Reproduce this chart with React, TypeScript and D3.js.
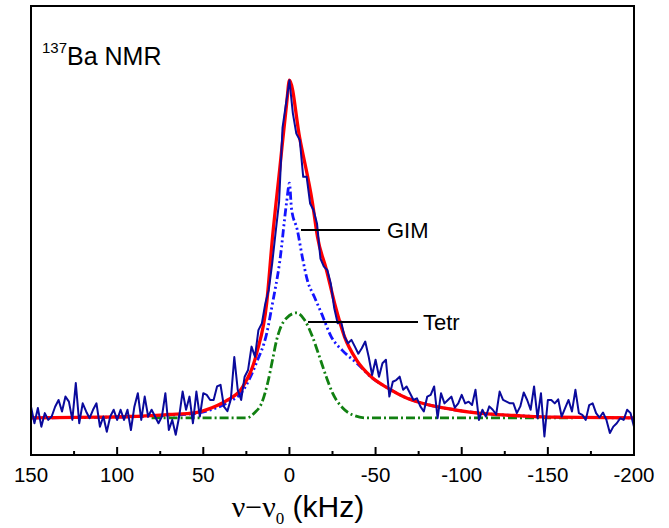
import React from "react";
import * as d3 from "d3";

// measured spectrum, 2 kHz channels from 150 down to -200 kHz
const freqStart = 150;
const freqStep = -2;
const spectrum = [
  3.3, -1.6, 2.9, -2.6, 1.4, -0.6, 0.4, 3.3, 5.3, 1.9,
  6.3, 4.8, -0.6, 10.3, -1.6, 4.3, 1.9, -0.1, 2.4, 4.3,
  -2.6, 0.4, -4.1, 0.4, 2.4, -0.6, 2.4, -0.6, 2.4, -3.6,
  3.3, 7.3, -0.6, 6.3, 0.4, 2.4, 0.4, -1.6, 0.4, 7.3,
  -3.6, -0.6, -5.0, 0.4, 7.8, 2.4, 6.3, -1.6, 7.8, 0.4,
  7.3, 6.8, 5.3, 5.3, 9.3, 9.8, 3.3, 2.0, 5.5, 18,
  8.3, 5.3, 12.2, 14.2, 21.1, 18.1, 26.0, 28.0, 33.9, 37.9,
  45.8, 55, 64, 86, 93, 100, 90.2, 84.2, 82.3, 71.4,
  71.4, 63.5, 61.5, 57.6, 47.2, 44.8, 43.8, 39.8, 32.5, 28.0,
  28.5, 24.0, 22.1, 23.1, 21.1, 19, 20.6, 22.6, 18.1, 12.7,
  17.2, 12.2, 16.2, 17.2, 6.3, 10.7, 11.2, 12.2, 8.3, 9.3,
  7.3, 5.3, 5.8, 3.4, 1.9, 6.3, 6.8, 9.3, -0.1, 7.3,
  4.3, 5.3, 6.3, 3.0, 4.3, 6.8, 4.3, 4.8, 3.8, 8.3,
  -0.6, 2.4, 0.4, 3.4, 2.4, 1.0, 7.8, 5.3, 4.8, 4.3,
  4.3, 1.4, 3.4, 7.5, 5.3, 2.4, 9.3, -0.1, 7.3, -5.5,
  5.3, 5.3, 4.3, 5.5, 0.4, 2.9, 5.3, 1.9, 8.3, 1.4,
  0.9, -0.6, 3.8, 4.3, 1.4, 0.1, 1.6, -0.6, -4.5, -2.6,
  -1.6, -0.1, -0.6, 2.4, 1.4, -2.6,
];

// total fit
const fitFreq = [150, 110, 92.6, 70, 55, 45, 35.8, 27.1, 19, 13.2, 9.8, 5.7, 1.6, 0, -5.9, -13.4, -16.3, -21.5, -26.2, -32, -38.9, -47.6, -56.9, -66.7, -76.6, -95.7, -114.8, -134.5, -153.7, -200];
const fitVal = [0, 0.2, 0.4, 1.0, 1.5, 3.0, 5.3, 9.2, 19.2, 34.0, 53.6, 73.4, 93.2, 100, 83.1, 63.6, 53.6, 43.8, 34.0, 24.0, 17.2, 12.1, 8.9, 6.2, 4.4, 2.4, 1.2, 0.6, 0.2, 0];

// GIM component
const gimFreq = [150, 92.6, 70, 55, 45, 35.8, 27.1, 19, 13.2, 9.8, 5.7, 1.6, 0, -1.2, -4.6, -7.5, -10.4, -14.5, -18.5, -24.3, -30.7, -38.9, -47.6, -56.9, -66.7, -76.6, -95.7, -114.8, -134.5, -153.7, -200];
const gimVal = [0, 0.3, 0.8, 1.3, 2.5, 4.5, 8.0, 16.5, 25, 34, 46, 64, 69.5, 62, 55.6, 47.6, 40.8, 35.8, 31.1, 24.0, 20.0, 16.3, 12.0, 8.9, 6.2, 4.4, 2.4, 1.2, 0.6, 0.2, 0];

// Tetr component
const tetrFreq = [80, 24.8, 20.2, 16.1, 12.6, 9.8, 7.4, 5.7, 1.6, -4.1, -8.8, -13.4, -17.5, -21.5, -25, -30.8, -36.6, -44.7, -165];
const tetrVal = [0, 0, 1.5, 4.4, 10.4, 17.2, 23.1, 26.0, 29.6, 31.1, 29.0, 24.0, 18.0, 12.0, 7.4, 3.0, 0.9, 0, 0];

const majorTicks = [150, 100, 50, 0, -50, -100, -150, -200];
const minorTicks = [125, 75, 25, -25, -75, -125, -175];

const W = 669, H = 528;
const L = 31, R = 634, T = 6, B = 455;
const sans = "'Liberation Sans', Arial, sans-serif";
const serif = "'Liberation Serif', 'Times New Roman', serif";

export default function App() {
  const x = d3.scaleLinear().domain([150, -200]).range([L, R]);
  const y = d3.scaleLinear().domain([-11, 122]).range([B, T]);

  const pairs = (f: number[], v: number[]) => f.map((d, i) => [d, v[i]] as [number, number]);
  const smooth = d3.line<[number, number]>().x(d => x(d[0])).y(d => y(d[1])).curve(d3.curveMonotoneX);
  const raw = d3.line<number>().x((d, i) => x(freqStart + i * freqStep)).y(d => y(d));

  return (
    <svg width={W} height={H} style={{ position: "absolute", left: 0, top: 0 }}>
      <rect x={0} y={0} width={W} height={H} fill="#fff" />
      <defs>
        <clipPath id="plot">
          <rect x={L} y={T} width={R - L} height={B - T} />
        </clipPath>
      </defs>
      <g clipPath="url(#plot)">
        <path d={smooth(pairs(gimFreq, gimVal)) || ""} fill="none" stroke="#1414ff" strokeWidth={2.8} strokeDasharray="8,3,2,3,2,3" />
        <path d={smooth(pairs(tetrFreq, tetrVal)) || ""} fill="none" stroke="#118011" strokeWidth={2.8} strokeDasharray="9,3,2,3" />
        <path d={smooth(pairs(fitFreq, fitVal)) || ""} fill="none" stroke="#ff0000" strokeWidth={3.3} />
        <path d={raw(spectrum) || ""} fill="none" stroke="#0a0a9c" strokeWidth={2} strokeLinejoin="round" />
      </g>

      <line x1={301} x2={380} y1={230} y2={230} stroke="#000" strokeWidth={2} />
      <text x={387} y={238} fontFamily={sans} fontSize={22}>GIM</text>
      <line x1={308} x2={418} y1={322} y2={322} stroke="#000" strokeWidth={2} />
      <text x={423} y={330} fontFamily={sans} fontSize={22}>Tetr</text>

      <text x={42} y={65} fontFamily={sans} fontSize={25}>
        <tspan fontSize={15} dy={-12}>137</tspan>
        <tspan dy={12}>Ba NMR</tspan>
      </text>

      <rect x={L} y={T} width={R - L} height={B - T} fill="none" stroke="#000" strokeWidth={2} />
      {majorTicks.map(t => (
        <g key={"M" + t}>
          <line x1={x(t)} x2={x(t)} y1={B} y2={B - 8} stroke="#000" strokeWidth={2} />
          <text x={x(t)} y={482} textAnchor="middle" fontFamily={sans} fontSize={20.5}>{t}</text>
        </g>
      ))}
      {minorTicks.map(t => (
        <line key={"m" + t} x1={x(t)} x2={x(t)} y1={B} y2={B - 4} stroke="#000" strokeWidth={2} />
      ))}

      <text x={298} y={517} textAnchor="middle" fontFamily={sans} fontSize={30}>
        <tspan fontFamily={serif}>ν−ν</tspan>
        <tspan fontFamily={serif} fontSize={17} dy={7}>0</tspan>
        <tspan dy={-7}> (kHz)</tspan>
      </text>
    </svg>
  );
}
